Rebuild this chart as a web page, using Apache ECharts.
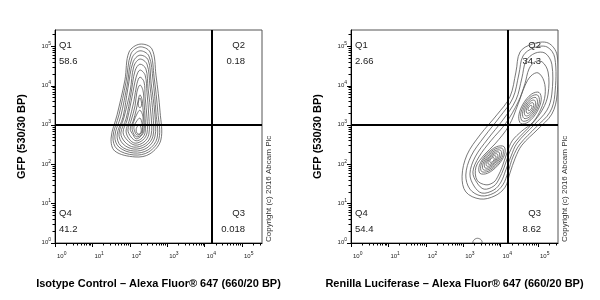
<!DOCTYPE html>
<html><head><meta charset="utf-8">
<script src="https://cdn.jsdelivr.net/npm/echarts@6/dist/echarts.min.js"></script>
<style>html,body{margin:0;padding:0;background:#fff}#c{width:600px;height:300px}</style>
</head><body><div id="c"></div><script>
// ---- data (log10 units on both axes) ----
const decadeTicks = [0, 1, 2, 3, 4, 5];
const minorMultipliers = [2, 3, 4, 5, 6, 7, 8, 9];
const xMaxLog = 5.535;
const yMaxLog = 5.42;
const panelXTitles = ['Isotype Control – Alexa Fluor® 647 (660/20 BP)', 'Renilla Luciferase – Alexa Fluor® 647 (660/20 BP)'];
const yTitle = 'GFP (530/30 BP)';
const copyrightText = 'Copyright (c) 2016 Abcam Plc';
const quadrantNames = ['Q1', 'Q2', 'Q3', 'Q4'];
const isotypePercents = ['58.6', '0.18', '0.018', '41.2'];
const renillaPercents = ['2.66', '34.3', '8.62', '54.4'];
const isotypeGate = [4.2, 3.0];
const renillaGate = [4.2, 3.0];

const isotypeContours = [
 [[2.27,5.06],[2.59,4.94],[2.70,4.27],[2.81,3.33],[2.83,2.62],[2.54,2.27],[2.14,2.19],[1.60,2.34],[1.50,2.67],[1.66,3.26],[1.87,4.15],[1.98,4.86]],
 [[2.27,4.99],[2.54,4.86],[2.65,4.22],[2.75,3.33],[2.78,2.65],[2.51,2.32],[2.11,2.24],[1.66,2.39],[1.55,2.70],[1.71,3.26],[1.90,4.10],[2.03,4.81]],
 [[2.27,4.89],[2.51,4.76],[2.62,4.15],[2.70,3.31],[2.73,2.67],[2.49,2.37],[2.11,2.29],[1.71,2.44],[1.60,2.72],[1.76,3.23],[1.93,4.02],[2.06,4.71]],
 [[2.27,4.78],[2.49,4.66],[2.57,4.07],[2.67,3.28],[2.67,2.70],[2.46,2.42],[2.11,2.34],[1.76,2.47],[1.66,2.75],[1.82,3.21],[1.95,3.94],[2.09,4.61]],
 [[2.27,4.68],[2.46,4.55],[2.54,3.99],[2.62,3.26],[2.62,2.72],[2.43,2.47],[2.11,2.39],[1.82,2.52],[1.71,2.77],[1.84,3.18],[2.01,3.87],[2.11,4.50]],
 [[2.27,4.55],[2.43,4.43],[2.49,3.92],[2.57,3.23],[2.57,2.75],[2.41,2.52],[2.11,2.44],[1.87,2.57],[1.76,2.80],[1.90,3.16],[2.03,3.79],[2.14,4.38]],
 [[2.27,4.40],[2.41,4.27],[2.46,3.82],[2.51,3.21],[2.51,2.77],[2.38,2.57],[2.14,2.49],[1.93,2.62],[1.82,2.82],[1.93,3.13],[2.06,3.72],[2.17,4.22]],
 [[2.27,4.22],[2.38,4.10],[2.41,3.72],[2.46,3.18],[2.46,2.80],[2.35,2.62],[2.14,2.54],[1.98,2.65],[1.90,2.85],[1.98,3.10],[2.11,3.61],[2.19,4.05]],
 [[2.27,4.02],[2.35,3.89],[2.38,3.59],[2.41,3.16],[2.41,2.82],[2.33,2.67],[2.17,2.60],[2.03,2.70],[1.95,2.88],[2.03,3.10],[2.14,3.49],[2.19,3.84]],
 [[2.27,3.77],[2.33,3.64],[2.35,3.44],[2.38,3.13],[2.38,2.85],[2.30,2.72],[2.17,2.65],[2.09,2.75],[2.01,2.90],[2.09,3.10],[2.17,3.38],[2.22,3.61]],
 [[2.27,3.38],[2.35,3.23],[2.35,3.03],[2.35,2.85],[2.30,2.75],[2.19,2.70],[2.11,2.77],[2.06,2.93],[2.11,3.10],[2.19,3.28]],
 [[2.27,3.18],[2.33,3.03],[2.33,2.85],[2.27,2.77],[2.19,2.75],[2.14,2.82],[2.11,2.95],[2.17,3.08]],
 [[2.25,3.00],[2.30,2.93],[2.30,2.82],[2.25,2.77],[2.19,2.80],[2.17,2.88],[2.19,2.95]],
 [[2.27,3.69],[2.31,3.59],[2.31,3.49],[2.27,3.44],[2.23,3.49],[2.23,3.59]]
];

const renillaContours = [
 [[3.45,1.12],[3.85,1.20],[4.12,1.42],[4.25,1.78],[4.39,2.16],[4.57,2.49],[5.00,2.90],[5.37,3.28],[5.51,3.77],[5.51,4.78],[5.27,5.09],[4.84,5.06],[4.52,4.86],[4.41,4.35],[4.25,3.72],[3.90,3.26],[3.45,2.75],[3.10,2.24],[2.97,1.70],[3.07,1.30]],
 [[3.48,1.20],[3.82,1.27],[4.06,1.48],[4.20,1.81],[4.33,2.19],[4.52,2.52],[4.95,2.95],[5.32,3.33],[5.45,3.77],[5.45,4.71],[5.24,4.99],[4.87,4.96],[4.60,4.76],[4.49,4.30],[4.33,3.69],[3.98,3.21],[3.56,2.70],[3.21,2.21],[3.07,1.73],[3.18,1.37]],
 [[3.50,1.27],[3.82,1.35],[4.01,1.55],[4.14,1.86],[4.28,2.21],[4.44,2.54],[4.89,3.00],[5.24,3.38],[5.37,3.79],[5.37,4.55],[5.19,4.83],[4.92,4.83],[4.68,4.63],[4.57,4.20],[4.41,3.64],[4.06,3.13],[3.66,2.65],[3.32,2.19],[3.18,1.76],[3.29,1.45]],
 [[3.56,1.37],[3.82,1.45],[3.96,1.63],[4.09,1.91],[4.22,2.26],[4.39,2.57],[4.84,3.03],[5.13,3.41],[5.27,3.79],[5.27,4.35],[5.11,4.61],[4.92,4.61],[4.76,4.43],[4.65,4.05],[4.47,3.59],[4.14,3.05],[3.74,2.60],[3.42,2.19],[3.26,1.81],[3.37,1.53]],
 [[3.61,1.48],[3.82,1.55],[3.93,1.70],[4.04,1.93],[4.17,2.29],[4.31,2.60],[4.57,2.85],[4.87,3.08],[5.08,3.41],[5.19,3.77],[5.16,4.12],[5.00,4.33],[4.81,4.25],[4.65,4.00],[4.47,3.54],[4.22,2.98],[3.85,2.52],[3.56,2.24],[3.34,1.93],[3.37,1.60]],
 [[4.092,2.451],[4.109,2.256],[3.928,1.976],[3.654,1.776],[3.448,1.773],[3.431,1.968],[3.612,2.248],[3.886,2.448]],
 [[4.048,2.404],[4.062,2.236],[3.905,1.996],[3.669,1.824],[3.492,1.820],[3.478,1.988],[3.635,2.228],[3.871,2.400]],
 [[4.003,2.357],[4.013,2.218],[3.881,2.017],[3.684,1.872],[3.537,1.867],[3.527,2.006],[3.659,2.207],[3.856,2.352]],
 [[3.958,2.310],[3.966,2.198],[3.859,2.035],[3.700,1.918],[3.582,1.914],[3.574,2.026],[3.681,2.189],[3.840,2.306]],
 [[3.913,2.263],[3.920,2.176],[3.839,2.052],[3.718,1.963],[3.627,1.961],[3.620,2.048],[3.701,2.172],[3.822,2.261]],
 [[3.869,2.216],[3.875,2.155],[3.819,2.069],[3.735,2.008],[3.671,2.008],[3.665,2.069],[3.721,2.155],[3.805,2.216]],
 [[3.824,2.168],[3.829,2.133],[3.800,2.086],[3.753,2.054],[3.716,2.056],[3.711,2.091],[3.740,2.138],[3.787,2.170]],
 [[5.027,3.832],[5.087,3.644],[4.971,3.333],[4.746,3.082],[4.545,3.038],[4.485,3.226],[4.601,3.537],[4.826,3.788]],
 [[4.987,3.766],[5.038,3.609],[4.941,3.350],[4.753,3.141],[4.585,3.104],[4.534,3.261],[4.631,3.520],[4.819,3.729]],
 [[4.946,3.699],[4.987,3.573],[4.911,3.366],[4.761,3.200],[4.626,3.171],[4.585,3.297],[4.661,3.504],[4.811,3.670]],
 [[4.906,3.633],[4.938,3.538],[4.881,3.383],[4.768,3.258],[4.666,3.237],[4.634,3.332],[4.691,3.487],[4.804,3.612]],
 [[4.866,3.567],[4.889,3.503],[4.851,3.399],[4.775,3.316],[4.706,3.303],[4.683,3.367],[4.721,3.471],[4.797,3.554]],
 [[4.826,3.501],[4.839,3.468],[4.821,3.416],[4.782,3.375],[4.746,3.369],[4.733,3.402],[4.751,3.454],[4.790,3.495]],
 [[3.26,0],[3.29,0.08],[3.38,0.12],[3.48,0.08],[3.50,0]]
];

// ---- layout / styles ----
const FONT = 'Arial, "Liberation Sans", sans-serif';
const GRID_TOP = 30, GRID_W = 207, GRID_H = 213;
const panels = [
  { left: 55, contours: isotypeContours, gate: isotypeGate, pct: isotypePercents, title: panelXTitles[0] },
  { left: 351, contours: renillaContours, gate: renillaGate, pct: renillaPercents, title: panelXTitles[1] }
];
function minorTicks(max) {
  const out = [];
  decadeTicks.forEach(d => minorMultipliers.forEach(m => { const v = d + Math.log10(m); if (v < max) out.push(v); }));
  return out;
}
const labelFmt = v => '{b|10}{s|' + Math.round(v) + '}';
const rich = {
  b: { fontSize: 6, fontFamily: FONT, color: '#222', lineHeight: 8, verticalAlign: 'bottom' },
  s: { fontSize: 5, fontFamily: FONT, color: '#222', lineHeight: 8, verticalAlign: 'top' }
};
const nameStyle = { fontFamily: FONT, fontWeight: 'bold', fontSize: 11, color: '#000' };

const xAxis = [], yAxis = [], grid = [], series = [], graphic = [];
panels.forEach((p, i) => {
  grid.push({ left: p.left, top: GRID_TOP, width: GRID_W, height: GRID_H, show: true,
    borderColor: '#555', borderWidth: 1, backgroundColor: 'transparent', containLabel: false, outerBoundsMode: 'none' });
  xAxis.push({ type: 'value', gridIndex: i, min: 0, max: xMaxLog, position: 'bottom',
    axisLine: { show: true, onZero: false, lineStyle: { color: '#000', width: 1 } },
    axisTick: { show: true, customValues: decadeTicks, length: 4, lineStyle: { color: '#000' } },
    axisLabel: { customValues: decadeTicks, formatter: labelFmt, rich: rich, margin: 8, align: 'left', padding: [0, 0, 0, 2] },
    splitLine: { show: false },
    name: p.title, nameLocation: 'middle', nameGap: 35, nameTextStyle: nameStyle });
  xAxis.push({ type: 'value', gridIndex: i, min: 0, max: xMaxLog, position: 'bottom',
    axisLine: { show: false }, axisTick: { show: true, customValues: minorTicks(xMaxLog), length: 2.5, lineStyle: { color: '#000' } },
    axisLabel: { show: false }, splitLine: { show: false } });
  yAxis.push({ type: 'value', gridIndex: i, min: 0, max: yMaxLog, position: 'left',
    axisLine: { show: true, onZero: false, lineStyle: { color: '#000', width: 1 } },
    axisTick: { show: true, customValues: decadeTicks, length: 4, lineStyle: { color: '#000' } },
    axisLabel: { customValues: decadeTicks, formatter: labelFmt, rich: rich, margin: 4, padding: [0, 0, 3, 0] },
    splitLine: { show: false },
    name: yTitle, nameLocation: 'middle', nameRotate: 90, nameGap: 28, nameTextStyle: nameStyle });
  yAxis.push({ type: 'value', gridIndex: i, min: 0, max: yMaxLog, position: 'left',
    axisLine: { show: false }, axisTick: { show: true, customValues: minorTicks(yMaxLog), length: 2.5, lineStyle: { color: '#000' } },
    axisLabel: { show: false }, splitLine: { show: false } });

  const contours = p.contours;
  series.push({
    type: 'custom', xAxisIndex: 2 * i, yAxisIndex: 2 * i, clip: true, silent: true,
    data: contours.map((c, k) => [c[0][0], c[0][1], k]),
    encode: { x: 0, y: 1 },
    renderItem: (params, api) => ({
      type: 'polygon',
      shape: { points: contours[params.dataIndex].map(pt => api.coord(pt)), smooth: 0.35 },
      style: { fill: 'none', stroke: '#555', lineWidth: 0.8 }
    }),
    markLine: { silent: true, symbol: 'none', animation: false, label: { show: false },
      lineStyle: { color: '#000', width: 2, type: 'solid' },
      data: [{ xAxis: p.gate[0] }, { yAxis: p.gate[1] }] }
  });

  const L = p.left, R = p.left + GRID_W, T = GRID_TOP, B = GRID_TOP + GRID_H;
  const txt = (x, y, text, align) => ({ type: 'text', x: x, y: y, silent: true,
    style: { text: text, font: '9.5px ' + FONT, fill: '#222', align: align, textAlign: align, verticalAlign: 'middle', textVerticalAlign: 'middle' } });
  graphic.push(txt(L + 4, T + 15.5, quadrantNames[0], 'left'));
  graphic.push(txt(L + 4, T + 31, p.pct[0], 'left'));
  graphic.push(txt(R - 17, T + 15.5, quadrantNames[1], 'right'));
  graphic.push(txt(R - 17, T + 31, p.pct[1], 'right'));
  graphic.push(txt(R - 17, B - 30, quadrantNames[2], 'right'));
  graphic.push(txt(R - 17, B - 14, p.pct[2], 'right'));
  graphic.push(txt(L + 4, B - 30, quadrantNames[3], 'left'));
  graphic.push(txt(L + 4, B - 14, p.pct[3], 'left'));
  graphic.push({ type: 'text', x: R + 6.5, y: B - 1, rotation: Math.PI / 2, silent: true,
    style: { text: copyrightText, font: '8px ' + FONT, fill: '#333', align: 'left', textAlign: 'left', verticalAlign: 'middle', textVerticalAlign: 'middle' } });
});

const chart = echarts.init(document.getElementById('c'), null, { renderer: 'canvas' });
chart.setOption({ animation: false, backgroundColor: '#fff', grid, xAxis, yAxis, series, graphic });
</script></body></html>
